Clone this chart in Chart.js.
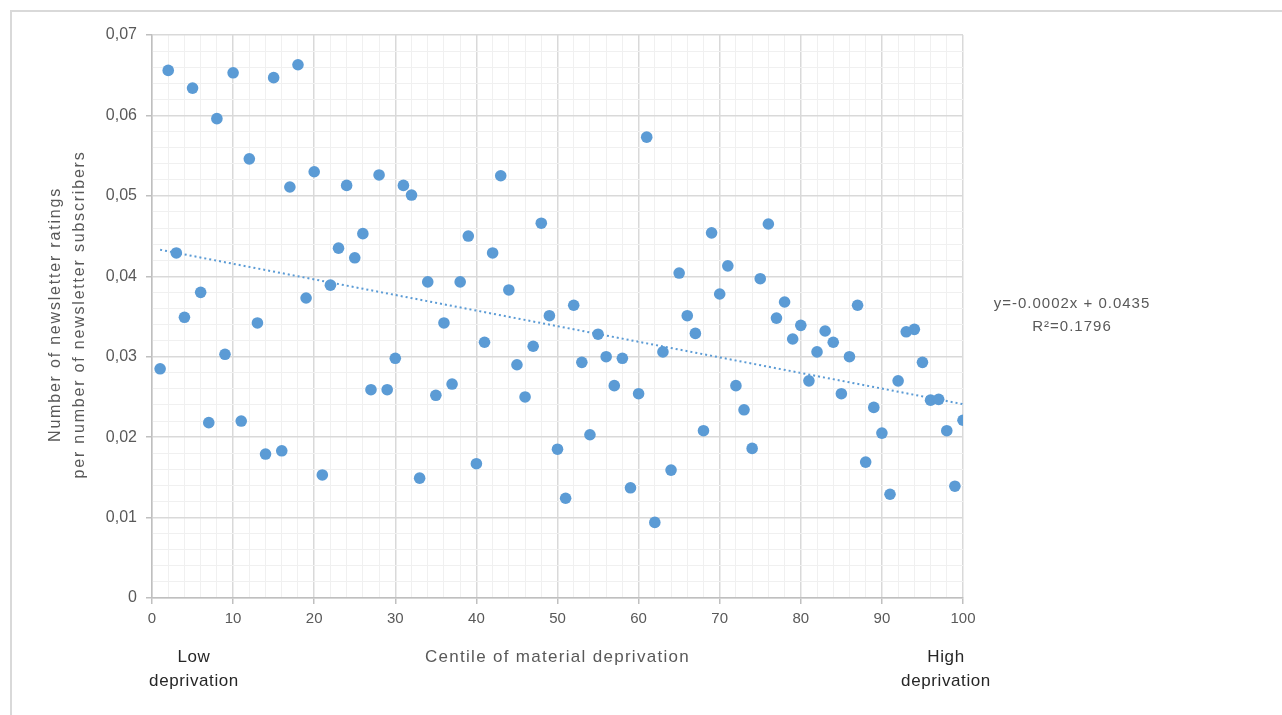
<!DOCTYPE html>
<html>
<head>
<meta charset="utf-8">
<script src="https://cdn.jsdelivr.net/npm/chart.js@4.4.1/dist/chart.umd.min.js"></script>
<style>
  html, body { margin: 0; padding: 0; background: #fff; }
  #wrap { position: relative; width: 1282px; height: 715px; }
</style>
</head>
<body>
<div id="wrap"><canvas id="scatterChart" width="1282" height="715"></canvas></div>
<script>
// centile of material deprivation (1..100)
const centiles = [];
for (let i = 1; i <= 100; i++) centiles.push(i);

// newsletter ratings per newsletter subscriber
const ratios = [
  0.0285, 0.0656, 0.0429, 0.0349, 0.0634, 0.0380, 0.0218, 0.0596, 0.0303, 0.0653,
  0.0220, 0.0546, 0.0342, 0.0179, 0.0647, 0.0183, 0.0511, 0.0663, 0.0373, 0.0530,
  0.0153, 0.0389, 0.0435, 0.0513, 0.0423, 0.0453, 0.0259, 0.0526, 0.0259, 0.0298,
  0.0513, 0.0501, 0.0149, 0.0393, 0.0252, 0.0342, 0.0266, 0.0393, 0.0450, 0.0167,
  0.0318, 0.0429, 0.0525, 0.0383, 0.0290, 0.0250, 0.0313, 0.0466, 0.0351, 0.0185,
  0.0124, 0.0364, 0.0293, 0.0203, 0.0328, 0.0300, 0.0264, 0.0298, 0.0137, 0.0254,
  0.0573, 0.0094, 0.0306, 0.0159, 0.0404, 0.0351, 0.0329, 0.0208, 0.0454, 0.0378,
  0.0413, 0.0264, 0.0234, 0.0186, 0.0397, 0.0465, 0.0348, 0.0368, 0.0322, 0.0339,
  0.0270, 0.0306, 0.0332, 0.0318, 0.0254, 0.0300, 0.0364, 0.0169, 0.0237, 0.0205,
  0.0129, 0.0270, 0.0331, 0.0334, 0.0293, 0.0246, 0.0247, 0.0208, 0.0139, 0.0221
];

// linear trendline end points
const trendX = [1, 100];
const trendY = [0.0433, 0.0241];

const yTicks = ['0', '0,01', '0,02', '0,03', '0,04', '0,05', '0,06', '0,07'];
const xTicks = ['0', '10', '20', '30', '40', '50', '60', '70', '80', '90', '100'];

const yTitle = ['Number of newsletter ratings', 'per number of newsletter subscribers'];
const xTitle = 'Centile of material deprivation';
const lowLabel = ['Low', 'deprivation'];
const highLabel = ['High', 'deprivation'];
const trendText = ['y=-0.0002x + 0.0435', 'R\u00B2=0.1796'];

const blue = '#5b9bd5';
const textGrey = '#595959';
const font = '"Liberation Sans", Arial, sans-serif';

const points = centiles.map((c, i) => ({ x: c, y: ratios[i] }));
const trend = trendX.map((x, i) => ({ x: x, y: trendY[i] }));

const isMajorY = v => Math.abs(Math.round(v * 1000)) % 10 === 0;
const isMajorX = v => Math.round(v) % 10 === 0;

const extraText = {
    id: 'extraText',
    afterDraw(chart) {
        const ctx = chart.ctx;
        const area = chart.chartArea;
        ctx.save();
        // frame around figure
        ctx.strokeStyle = '#d9d9d9';
        ctx.lineWidth = 2;
        ctx.beginPath();
        ctx.moveTo(11, 715);
        ctx.lineTo(11, 11);
        ctx.lineTo(1282, 11);
        ctx.stroke();

        ctx.fillStyle = textGrey;
        ctx.textAlign = 'center';
        ctx.textBaseline = 'middle';

        // y axis title
        ctx.save();
        ctx.font = '16px ' + font;
        ctx.letterSpacing = '1.8px';
        ctx.translate(56, (area.top + area.bottom) / 2 - 2);
        ctx.rotate(-Math.PI / 2);
        ctx.fillText(yTitle[0], 0, 0);
        ctx.fillText(yTitle[1], 0, 24);
        ctx.restore();

        // x axis title and end labels
        ctx.font = '17px ' + font;
        ctx.letterSpacing = '1.3px';
        ctx.fillText(xTitle, (area.left + area.right) / 2, 657);
        ctx.fillStyle = '#262626';
        ctx.letterSpacing = '0.6px';
        ctx.fillText(lowLabel[0], 194, 657);
        ctx.fillText(lowLabel[1], 194, 681);
        ctx.fillText(highLabel[0], 946, 657);
        ctx.fillText(highLabel[1], 946, 681);

        // trendline equation
        ctx.fillStyle = textGrey;
        ctx.font = '15px ' + font;
        ctx.letterSpacing = '1px';
        ctx.fillText(trendText[0], 1072, 304);
        ctx.fillText(trendText[1], 1072, 327);
        ctx.restore();
    }
};

const ctx = document.getElementById('scatterChart').getContext('2d');
new Chart(ctx, {
    type: 'scatter',
    data: {
        datasets: [
            {
                label: 'Ratings per subscriber',
                data: points,
                backgroundColor: blue,
                borderColor: blue,
                pointRadius: 5.8,
                pointBorderWidth: 0,
                order: 1,
            },
            {
                label: 'Linear trend',
                type: 'line',
                data: trend,
                borderColor: blue,
                borderWidth: 2,
                borderDash: [2, 3],
                pointRadius: 0,
                fill: false,
                order: 2,
            },
        ],
    },
    options: {
        responsive: false,
        animation: false,
        layout: {
            padding: { top: 35, right: 319, left: 0, bottom: 0 },
        },
        plugins: {
            legend: { display: false },
            tooltip: { enabled: false },
        },
        scales: {
            x: {
                type: 'linear',
                min: 0,
                max: 100,
                afterFit: scale => { scale.height = 117; },
                afterBuildTicks: scale => {
                    scale.ticks = [];
                    for (let v = 0; v <= 100; v += 2) scale.ticks.push({ value: v });
                },
                ticks: {
                    autoSkip: false,
                    maxRotation: 0,
                    padding: 6,
                    color: textGrey,
                    font: { family: font, size: 15 },
                    callback: v => isMajorX(v) ? xTicks[Math.round(v) / 10] : '',
                },
                grid: {
                    color: c => isMajorX(c.tick.value) ? '#d9d9d9' : '#f0f0f0',
                    lineWidth: c => isMajorX(c.tick.value) ? 1.5 : 1,
                    tickLength: 6,
                    tickColor: c => isMajorX(c.tick.value) ? '#bfbfbf' : 'rgba(0,0,0,0)',
                },
                border: { color: '#bfbfbf', width: 1.5 },
            },
            y: {
                min: 0,
                max: 0.07,
                afterFit: scale => { scale.width = 152; },
                afterBuildTicks: scale => {
                    scale.ticks = [];
                    for (let i = 0; i <= 35; i++) scale.ticks.push({ value: i * 0.002 });
                },
                ticks: {
                    autoSkip: false,
                    padding: 9,
                    color: textGrey,
                    font: { family: font, size: 16 },
                    callback: v => isMajorY(v) ? yTicks[Math.round(v * 100)] : '',
                },
                grid: {
                    color: c => isMajorY(c.tick.value) ? '#d9d9d9' : '#f0f0f0',
                    lineWidth: c => isMajorY(c.tick.value) ? 1.5 : 1,
                    tickLength: 6,
                    tickColor: c => isMajorY(c.tick.value) ? '#bfbfbf' : 'rgba(0,0,0,0)',
                },
                border: { color: '#bfbfbf', width: 1.5 },
            },
        },
    },
    plugins: [extraText],
});
</script>
</body>
</html>
